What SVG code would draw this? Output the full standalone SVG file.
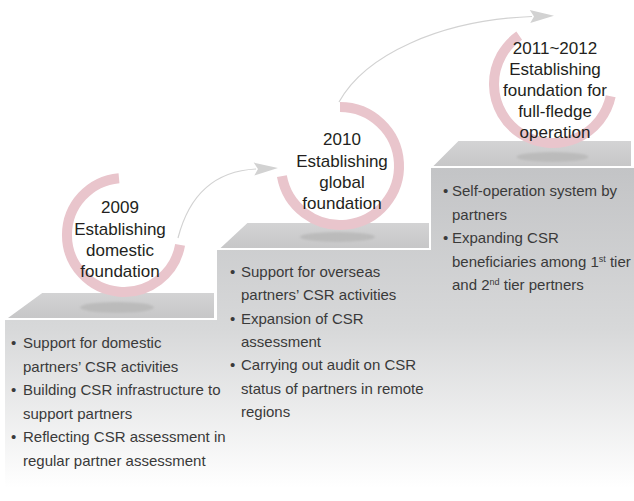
<svg xmlns="http://www.w3.org/2000/svg" width="634" height="501" viewBox="0 0 634 501">
<defs>
<linearGradient id="front" gradientUnits="userSpaceOnUse" x1="0" y1="168" x2="0" y2="488">
<stop offset="0" stop-color="#c3c4c6"/>
<stop offset="0.5" stop-color="#d7d8d9"/>
<stop offset="1" stop-color="#ffffff"/>
</linearGradient>
<linearGradient id="top" x1="0" y1="0" x2="0" y2="1">
<stop offset="0" stop-color="#d4d4d5"/>
<stop offset="1" stop-color="#c6c6c7"/>
</linearGradient>
<filter id="soft" x="-20%" y="-100%" width="140%" height="300%">
<feGaussianBlur stdDeviation="1"/>
</filter>
<marker id="ah" markerUnits="userSpaceOnUse" markerWidth="30" markerHeight="16" refX="0" refY="0" viewBox="-4 -8 30 16" orient="auto" overflow="visible">
<path d="M-2,-6.5 L22,0 L-2,6.5 L2,0 Z" fill="#d2d2d2"/>
</marker>
</defs>
<style>
.top{fill:url(#top);stroke:#ffffff;stroke-width:2}
.ring{fill:none;stroke:#e9c5cc;stroke-width:10}
.shadow{fill:#bbbbbb;filter:url(#soft)}
.title{font-family:"Liberation Sans",Arial,sans-serif;font-size:17px;fill:#231f20;text-anchor:middle}
.body{font-family:"Liberation Sans",Arial,sans-serif;font-size:15px;fill:#3a3a3a}
.conn{fill:none;stroke:#d2d2d2;stroke-width:1.2}
</style>
<rect width="634" height="501" fill="#ffffff"/>
<g id="stairs">
<path d="M5,320 H217 V250 H431 V168 H634 V495 H5 Z" fill="url(#front)"/>
</g>
<g id="step1">
<polygon class="top" points="42,292 215,292 215,319 5,319"/>
<ellipse class="shadow" cx="117" cy="307.5" rx="37" ry="5.5"/>
<path class="ring" d="M180.1,244.9 A57,57 0 1 1 119,178.2"/>
<text class="title"><tspan x="120" y="213">2009</tspan><tspan x="120" y="234.5">Establishing</tspan><tspan x="120" y="256">domestic</tspan><tspan x="120" y="277">foundation</tspan></text>
<text class="body"><tspan x="11" y="348">•</tspan><tspan x="11" y="394.5">•</tspan><tspan x="11" y="441.5">•</tspan></text>
<text class="body"><tspan x="23" y="348">Support for domestic</tspan><tspan x="23" y="371.5">partners’ CSR activities</tspan><tspan x="23" y="395">Building CSR infrastructure to</tspan><tspan x="23" y="418.5">support partners</tspan><tspan x="23" y="442">Reflecting CSR assessment in</tspan><tspan x="23" y="465.5">regular partner assessment</tspan></text>
</g>
<g id="step2">
<polygon class="top" points="247,222 430,222 430,249 218,249"/>
<ellipse class="shadow" cx="337.5" cy="237" rx="37.5" ry="5"/>
<path class="ring" d="M340,107 A59,59 0 1 1 281.9,176.2"/>
<text class="title"><tspan x="342" y="145">2010</tspan><tspan x="342" y="167">Establishing</tspan><tspan x="342" y="188">global</tspan><tspan x="342" y="208.5">foundation</tspan></text>
<text class="body"><tspan x="230" y="277">•</tspan><tspan x="230" y="323.5">•</tspan><tspan x="230" y="370">•</tspan></text>
<text class="body"><tspan x="241" y="277">Support for overseas</tspan><tspan x="241" y="300.3">partners’ CSR activities</tspan><tspan x="241" y="323.6">Expansion of CSR</tspan><tspan x="241" y="346.9">assessment</tspan><tspan x="241" y="370.2">Carrying out audit on CSR</tspan><tspan x="241" y="393.5">status of partners in remote</tspan><tspan x="241" y="416.8">regions</tspan></text>
</g>
<g id="step3">
<polygon class="top" points="458,140 632,140 632,167 431,167"/>
<ellipse class="shadow" cx="552.5" cy="157" rx="36" ry="5"/>
<path class="ring" d="M610.7,96.3 A59,59 0 1 1 519.2,35.7"/>
<text class="title"><tspan x="555" y="54">2011~2012</tspan><tspan x="555" y="75">Establishing</tspan><tspan x="555" y="96">foundation for</tspan><tspan x="555" y="117">full-fledge</tspan><tspan x="555" y="138">operation</tspan></text>
<text class="body"><tspan x="443" y="196">•</tspan><tspan x="443" y="243">•</tspan></text>
<text class="body"><tspan x="452" y="196">Self-operation system by</tspan><tspan x="452" y="219.5">partners</tspan><tspan x="452" y="243">Expanding CSR</tspan><tspan x="452" y="266.5">beneficiaries among 1<tspan font-size="9" dy="-5">st</tspan><tspan dy="5"> tier</tspan></tspan><tspan x="452" y="290">and 2<tspan font-size="9" dy="-5">nd</tspan><tspan dy="5"> tier pertners</tspan></tspan></text>
</g>
<g id="connectors">
<path class="conn" d="M178,238 Q195,172 256,169" marker-end="url(#ah)"/>
<path class="conn" d="M339,102 C365,55 440,20 532,16.5" marker-end="url(#ah)"/>
</g>
</svg>
